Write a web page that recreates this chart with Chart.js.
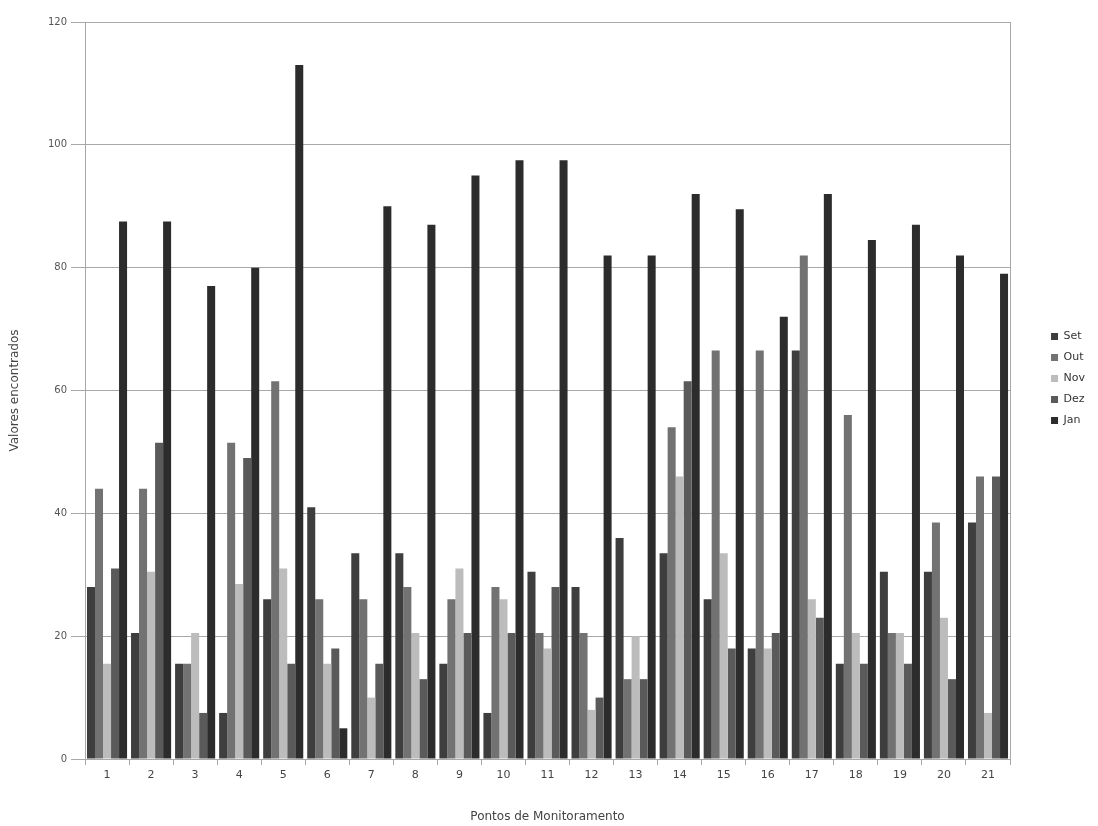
<!DOCTYPE html>
<html>
<head>
<meta charset="utf-8">
<script src="https://cdn.jsdelivr.net/npm/chart.js@4"></script>
<style>
    html, body { margin: 0; padding: 0; background: #ffffff; }
    #wrap { width: 1098px; height: 826px; }
</style>
</head>
<body>
<div id="wrap"><canvas id="chart"></canvas></div>
<script>
// Pontos de monitoramento (categories)
const pontos = ['1', '2', '3', '4', '5', '6', '7', '8', '9', '10', '11',
    '12', '13', '14', '15', '16', '17', '18', '19', '20', '21'];

// Values per month
const valSet = [28, 20.5, 15.5, 7.5, 26, 41, 33.5, 33.5, 15.5, 7.5, 30.5, 28, 36, 33.5, 26, 18, 66.5, 15.5, 30.5, 30.5, 38.5];
const valOut = [44, 44, 15.5, 51.5, 61.5, 26, 26, 28, 26, 28, 20.5, 20.5, 13, 54, 66.5, 66.5, 82, 56, 20.5, 38.5, 46];
const valNov = [15.5, 30.5, 20.5, 28.5, 31, 15.5, 10, 20.5, 31, 26, 18, 8, 20, 46, 33.5, 18, 26, 20.5, 20.5, 23, 7.5];
const valDez = [31, 51.5, 7.5, 49, 15.5, 18, 15.5, 13, 20.5, 20.5, 28, 10, 13, 61.5, 18, 20.5, 23, 15.5, 15.5, 13, 46];
const valJan = [87.5, 87.5, 77, 80, 113, 5, 90, 87, 95, 97.5, 97.5, 82, 82, 92, 89.5, 72, 92, 84.5, 87, 82, 79];

const yTicks = [0, 20, 40, 60, 80, 100, 120];

const FONT = 'DejaVu Sans';
const GRID = '#a8a8a8';

// Move the legend up a little, like the original
const legendShift = {
    id: 'legendShift',
    afterLayout(chart) {
        chart.legend.top -= 12;
        chart.legend.bottom -= 12;
    }
};

function makeSet(label, data, color) {
    return {
        label: label,
        data: data,
        backgroundColor: color,
        borderWidth: 0,
        barPercentage: 1.0,
        categoryPercentage: 0.91
    };
}

new Chart(document.getElementById('chart'), {
    type: 'bar',
    data: {
        labels: pontos,
        datasets: [
            makeSet('Set', valSet, '#3e3e3e'),
            makeSet('Out', valOut, '#727272'),
            makeSet('Nov', valNov, '#bcbcbc'),
            makeSet('Dez', valDez, '#5a5a5a'),
            makeSet('Jan', valJan, '#2c2c2c')
        ]
    },
    options: {
        responsive: true,
        maintainAspectRatio: false,
        animation: false,
        layout: { padding: { top: 22, right: 3, bottom: 0, left: 0 } },
        plugins: {
            legend: {
                position: 'right',
                fullSize: false,
                labels: {
                    boxWidth: 7,
                    boxHeight: 7,
                    padding: 10,
                    color: '#333',
                    font: { family: FONT, size: 11 }
                }
            },
            tooltip: { enabled: false }
        },
        scales: {
            x: {
                grid: { display: true, drawOnChartArea: false, color: GRID, tickLength: 6 },
                border: { color: GRID },
                ticks: { color: '#444', padding: 4, font: { family: FONT, size: 11 } },
                title: {
                    display: true,
                    text: 'Pontos de Monitoramento',
                    color: '#444',
                    padding: { top: 0, bottom: 2 },
                    font: { family: FONT, size: 12 }
                },
                afterFit: s => { s.height = 67; }
            },
            y: {
                min: 0,
                max: 120,
                afterBuildTicks: s => { s.ticks = yTicks.map(v => ({ value: v })); },
                grid: { color: GRID, tickLength: 14 },
                border: { color: GRID },
                ticks: { color: '#555', padding: 4, font: { family: FONT, size: 10 } },
                title: {
                    display: true,
                    text: 'Valores encontrados',
                    color: '#444',
                    padding: { top: 8, bottom: 0 },
                    font: { family: FONT, size: 12 }
                },
                afterFit: s => { s.width = 85; }
            },
            // empty right axis: draws the right border of the plot and keeps the legend away
            y2: {
                position: 'right',
                min: 0,
                max: 120,
                grid: { display: false },
                border: { color: GRID },
                ticks: { display: false },
                afterFit: s => { s.width = 31; }
            }
        }
    },
    plugins: [legendShift]
});
</script>
</body>
</html>
